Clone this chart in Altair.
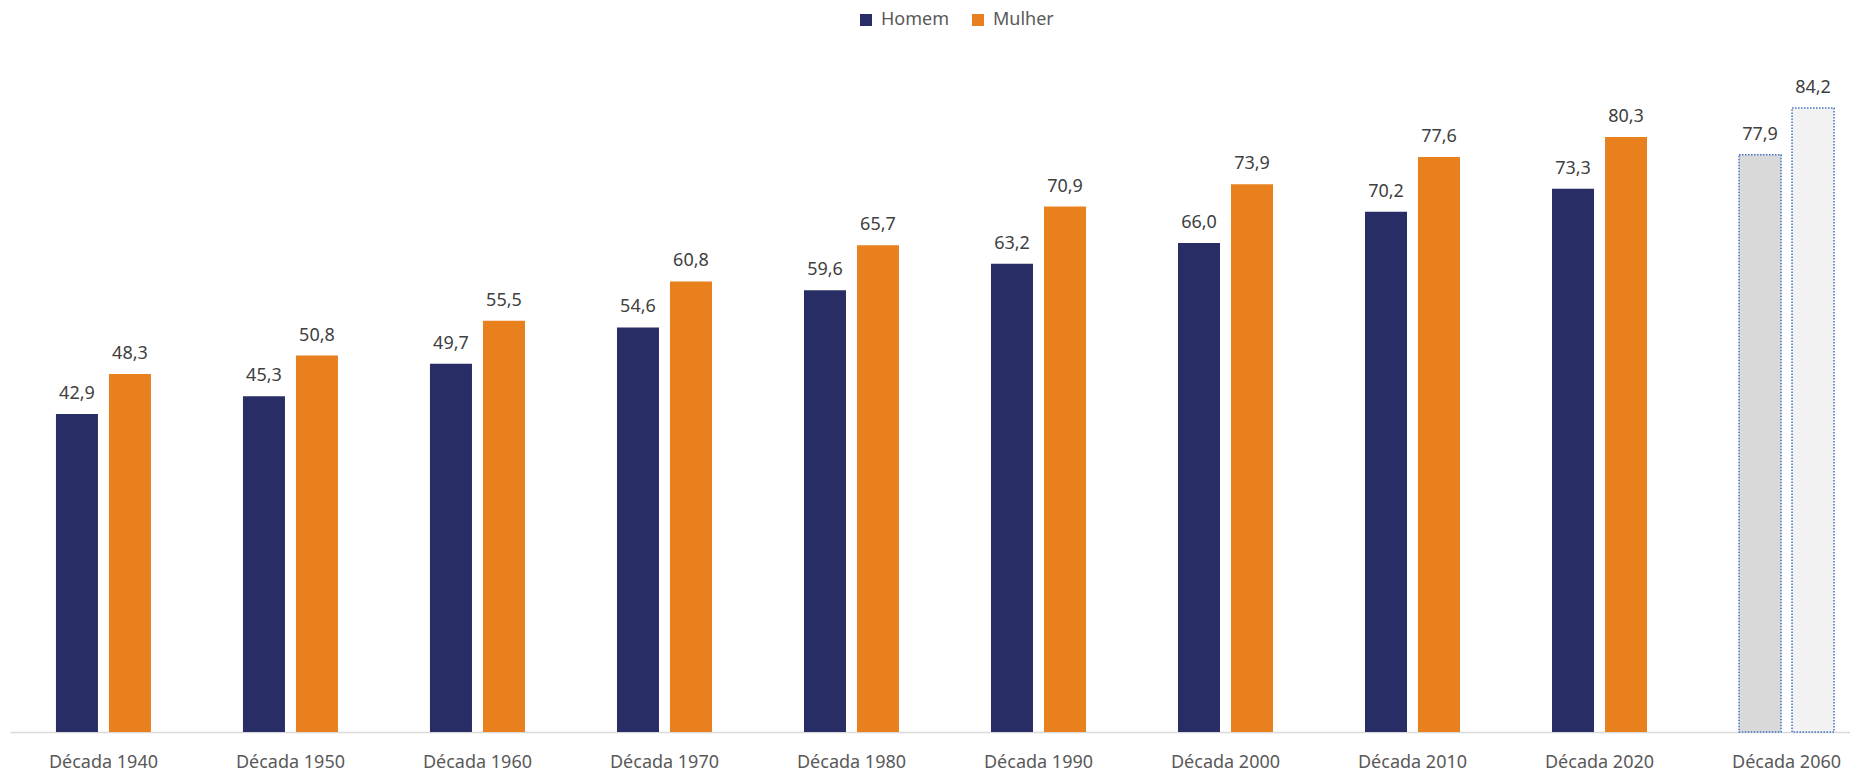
import altair as alt
import pandas as pd

decadas = ["Década 1940", "Década 1950", "Década 1960", "Década 1970", "Década 1980",
           "Década 1990", "Década 2000", "Década 2010", "Década 2020", "Década 2060"]
homem = [42.9, 45.3, 49.7, 54.6, 59.6, 63.2, 66.0, 70.2, 73.3, 77.9]
mulher = [48.3, 50.8, 55.5, 60.8, 65.7, 70.9, 73.9, 77.6, 80.3, 84.2]
sexos = ["Homem", "Mulher"]
cores = ["#282D66", "#E8801E"]
projecao = "Década 2060"
cores_proj = {"Homem": "#D9D9D9", "Mulher": "#F2F2F2"}

rows = []
for d, h, m in zip(decadas, homem, mulher):
    for s, v in zip(sexos, [h, m]):
        rows.append({
            "decada": d,
            "sexo": s,
            "valor": v,
            "rotulo": f"{v:.1f}".replace(".", ","),
            "proj": d == projecao,
            "fillc": cores_proj[s],
        })
df = pd.DataFrame(rows)

xenc = alt.X("decada:N", sort=decadas, title=None,
             scale=alt.Scale(paddingInner=0.492, paddingOuter=0.1656, align=0.742),
             axis=alt.Axis(labelAngle=0, ticks=False, tickSize=0, labelPadding=21,
                           labelFontSize=18, labelColor="#595959", labelFont="Noto Sans",
                           domainColor="#D9D9D9", domainWidth=1.5, grid=False))
xoff = alt.XOffset("sexo:N", sort=sexos, scale=alt.Scale(paddingInner=0.2075, paddingOuter=0))
yenc = alt.Y("valor:Q", scale=alt.Scale(domain=[0, 97.7], nice=False, zero=True), axis=None)

base = alt.Chart(df).encode(x=xenc, xOffset=xoff, y=yenc)

hist = base.transform_filter("!datum.proj").mark_bar().encode(
    color=alt.Color("sexo:N", sort=sexos,
                    scale=alt.Scale(domain=sexos, range=cores),
                    legend=alt.Legend(title=None, orient="none", legendX=847, legendY=3,
                                      direction="horizontal", symbolType="square",
                                      symbolSize=144, symbolStrokeWidth=0,
                                      labelFontSize=18, labelColor="#595959",
                                      labelFont="Noto Sans", labelOffset=6,
                                      columnPadding=19, padding=0))
)

proj = base.transform_filter("datum.proj").mark_bar(
    stroke="#4472C4", strokeWidth=1.5, strokeDash=[1.5, 1.5]
).encode(fill=alt.Fill("fillc:N", scale=None))

text = base.mark_text(dy=-15, baseline="alphabetic", fontSize=18, font="Noto Sans",
                      color="#404040").encode(text="rotulo:N")

chart = alt.layer(hist, proj, text).properties(
    width=1840, height=724,
    padding={"left": 2, "top": 0, "right": 0, "bottom": 0},
).configure(font="Noto Sans").configure_view(stroke=None, strokeWidth=0)

chart.save("out.html", embed_options={"renderer": "svg", "actions": False})
